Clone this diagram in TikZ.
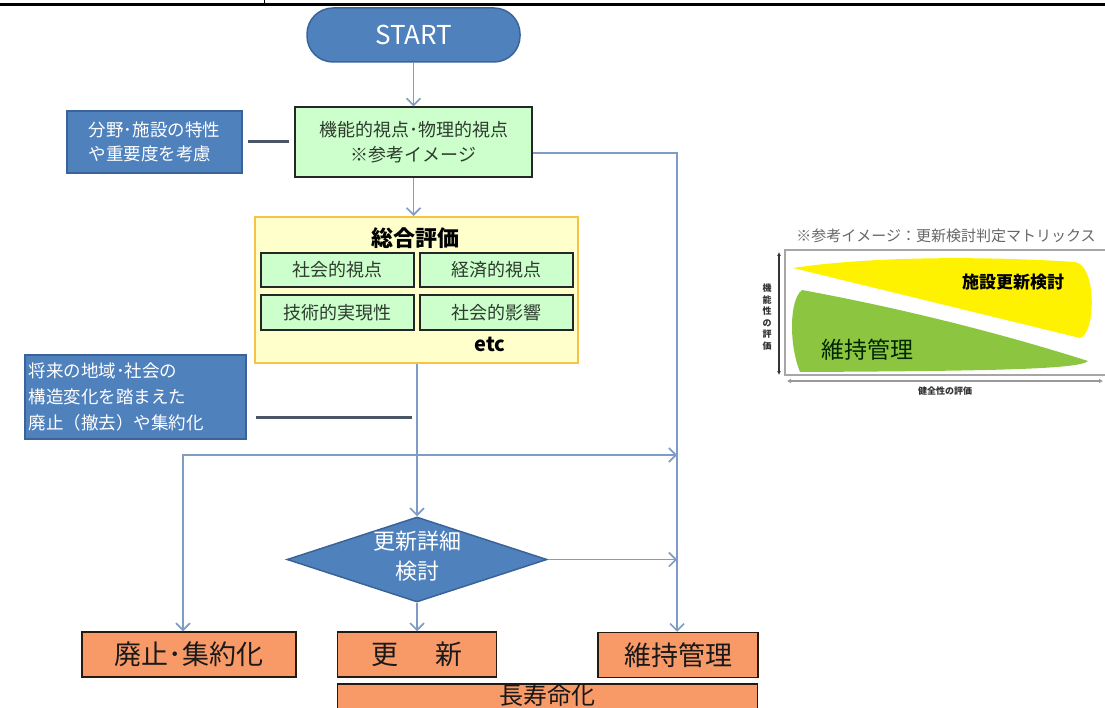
\documentclass[tikz,border=0pt]{standalone}
\usepackage{fontspec}
\setmainfont{Noto Sans CJK JP}
\usetikzlibrary{arrows.meta,shapes.geometric}
\definecolor{fblue}{HTML}{4F81BD}
\definecolor{dblue}{HTML}{3A6499}
\definecolor{conncol}{HTML}{7E9CC6}
\definecolor{lgreen}{HTML}{CCFFCC}
\definecolor{lyellow}{HTML}{FFFFCC}
\definecolor{goldc}{HTML}{F6C344}
\definecolor{orng}{HTML}{F79A68}
\definecolor{dkline}{HTML}{4A5666}
\definecolor{mgreen}{HTML}{8CC540}
\definecolor{gtext}{HTML}{2E3B2E}
\begin{document}
\begin{tikzpicture}[x=1pt,y=-1pt,
  cline/.style={draw=conncol, line width=1.6pt},
  arr/.style={cline, -{Straight Barb[length=7pt,width=14pt]}},
  dk/.style={draw=dkline, line width=3pt},
  bluebox/.style={draw=dblue, fill=fblue, line width=1.5pt, text=white},
  greenbox/.style={draw=black!85, fill=lgreen, line width=1.2pt, text=gtext, inner sep=0pt},
  orbox/.style={draw=black!80!brown, fill=orng, line width=1.5pt, text=black!90, inner sep=0pt, minimum height=45pt},
  jp/.style={font=\fontsize{18}{25}\selectfont},
  big/.style={font=\fontsize{27}{30}\selectfont}
]
\useasboundingbox (0,0) rectangle (1105,708);
% top rule
\draw[line width=2.5pt] (0,4.5) -- (1105,4.5);
\draw[line width=1pt] (264,0) -- (264,5);

% START
\node[bluebox, rounded corners=26pt, minimum width=213pt, minimum height=54pt,
      font=\fontsize{26}{28}\selectfont] (start) at (413.5,35) {START};

% function / physical viewpoint box
\node[greenbox, minimum width=237pt, minimum height=70pt, align=center, jp] (kino) at (413.5,142)
  {機能的視点･物理的視点\\※参考イメージ};

% blue note 1
\node[bluebox, minimum width=175pt, minimum height=62pt, align=left,
      font=\fontsize{17.5}{24}\selectfont] (note1) at (154.5,142)
  {分野･施設の特性\\や重要度を考慮};
\draw[dk, shorten <=5pt, shorten >=5pt] (note1.east) -- (kino.west);

% overall evaluation
\node[draw=goldc, fill=lyellow, line width=2pt, minimum width=323pt, minimum height=146pt] (sogo) at (416.5,290) {};
\node[font=\bfseries\fontsize{22}{24}\selectfont] (sogot) at (415,238) {総合評価};
\node[greenbox, minimum width=153pt, minimum height=34pt, jp] (s1) at (337.5,270) {社会的視点};
\node[greenbox, minimum width=153pt, minimum height=34pt, jp] (s2) at (496.5,270) {経済的視点};
\node[greenbox, minimum width=153pt, minimum height=35pt, jp] (s3) at (337.5,312.5) {技術的実現性};
\node[greenbox, minimum width=153pt, minimum height=35pt, jp] (s4) at (496.5,312.5) {社会的影響};
\node[font=\bfseries\fontsize{20}{22}\selectfont] (etc) at (490,344) {etc};

% blue note 2
\node[bluebox, text width=214pt, inner xsep=3.5pt, minimum height=84pt, align=left,
      font=\fontsize{17.5}{26}\selectfont] (note2) at (135.5,397)
  {将来の地域･社会の\\構造変化を踏まえた\\廃止（撤去）や集約化};
\coordinate (n2end) at (412,417);
\draw[dk] ([xshift=9pt]note2.east |- n2end) -- (n2end);

% decision diamond
\node[diamond, draw=dblue, fill=fblue, line width=1.5pt, minimum width=260pt, minimum height=85pt, inner sep=0pt] (dia) at (417,559.5) {};
\node[text=white, align=center, font=\fontsize{22}{30}\selectfont] (diat) at (417,556) {更新詳細\\検討};

% result boxes
\node[orbox, minimum width=214pt, big] (haishi) at (189,654.5) {廃止･集約化};
\node[orbox, minimum width=159pt, big] (koshin) at (417,654.5) {更\hspace{1.4em}新};
\node[orbox, minimum width=160pt, big] (iji) at (678,655) {維持管理};
\node[orbox, minimum width=420pt, minimum height=30pt] (choju) at (547.5,699) {};
\node[font=\fontsize{24}{26}\selectfont, text=black!90] (chojut) at (547.5,695) {長寿命化};

% connectors
\coordinate (r1) at (677,153);
\coordinate (j) at (417,455);
\draw[arr] (start.south) -- (kino.north);
\draw[arr] (kino.south) -- (kino.south |- sogo.north);
\draw[arr] (dia.north |- sogo.south) -- (dia.north);
\draw[arr] (j) -| ([xshift=-6pt]haishi.north);
\draw[arr] (j) -- (j -| r1);
\draw[arr] (kino.east |- r1) -- (r1) -- (r1 |- iji.north);
\draw[arr] (dia.east) -- (dia.east -| r1);
\draw[arr] (dia.south) -- (koshin.north);

% reference matrix
\node[text=black!60, font=\fontsize{15}{16}\selectfont] (mtitle) at (946,236) {※参考イメージ：更新検討判定マトリックス};
\draw[draw=black!35, line width=2pt] (785,250) rectangle (1110,375);
\fill[yellow] (793,268) .. controls (880,255) and (1000,257) .. (1075,262)
  .. controls (1097,265) and (1096,334) .. (1080,338) -- cycle;
\fill[mgreen] (802,290) .. controls (900,308) and (1000,333) .. (1088,361)
  .. controls (1080,369) and (1000,371) .. (800,372)
  .. controls (789,345) and (789,300) .. (802,290) -- cycle;
\node[font=\bfseries\fontsize{17}{18}\selectfont] (mt1) at (1013,282) {施設更新検討};
\node[text=black!85!green, font=\fontsize{23}{24}\selectfont] (mt2) at (867,350) {維持管理};
\draw[line width=1.2pt, draw=black!80, {Latex[length=4pt,width=4pt]}-{Latex[length=4pt,width=4pt]}] (779,252) -- (779,375);
\node[align=center, text=black!80, font=\bfseries\fontsize{9}{11.5}\selectfont] (vlab) at (767,317) {機\\能\\性\\の\\評\\価};
\draw[line width=2pt, draw=black!40, {Latex[length=4pt,width=5pt]}-{Latex[length=4pt,width=5pt]}] (787,381) -- (1103,381);
\node[text=black!80, font=\bfseries\fontsize{9}{10}\selectfont] (hlab) at (945,391) {健全性の評価};
\end{tikzpicture}
\end{document}
